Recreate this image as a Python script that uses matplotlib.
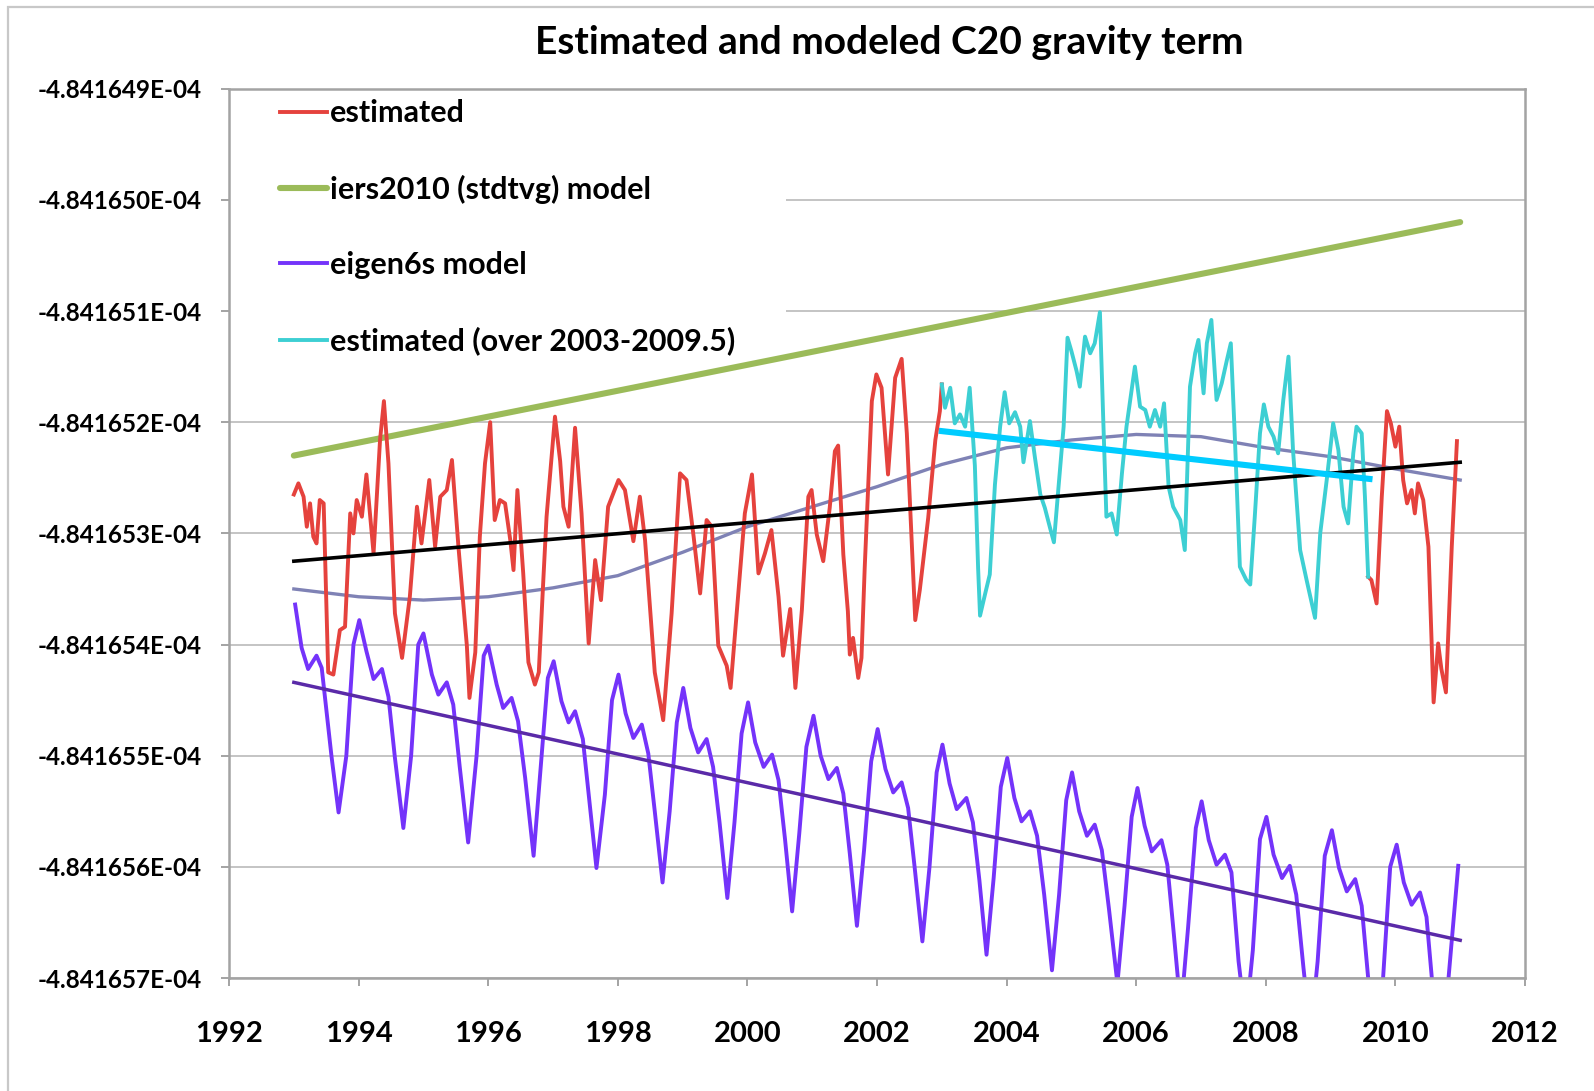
import matplotlib
matplotlib.use('Agg')
import numpy as np
import matplotlib.pyplot as plt
import matplotlib.patches as patches
from matplotlib.ticker import FuncFormatter

plt.rcParams['font.family'] = ['Lato', 'DejaVu Sans']

# C20 value = C20_BASE + offset * UNIT  (offsets)
C20_BASE = -4.84165e-4
UNIT = 1e-10

# weekly estimates (red, and cyan over 2003-2009.5)
est_year = [
    1993.00, 1993.07, 1993.15, 1993.20, 1993.25, 1993.30, 1993.35, 1993.40, 1993.46, 1993.53,
    1993.61, 1993.71, 1993.79, 1993.87, 1993.92, 1993.97, 1994.05, 1994.12, 1994.23, 1994.33,
    1994.39, 1994.46, 1994.56, 1994.67, 1994.79, 1994.90, 1994.97, 1995.09, 1995.18, 1995.26,
    1995.36, 1995.44, 1995.54, 1995.67, 1995.71, 1995.80, 1995.87, 1995.95, 1996.03, 1996.10,
    1996.18, 1996.26, 1996.34, 1996.39, 1996.45, 1996.54, 1996.62, 1996.72, 1996.78, 1996.85,
    1996.90, 1997.03, 1997.11, 1997.16, 1997.24, 1997.34, 1997.44, 1997.55, 1997.65, 1997.74,
    1997.85, 1998.01, 1998.11, 1998.24, 1998.34, 1998.42, 1998.57, 1998.70, 1998.83, 1998.96,
    1999.06, 1999.17, 1999.27, 1999.37, 1999.45, 1999.55, 1999.68, 1999.74, 1999.83, 1999.96,
    2000.07, 2000.17, 2000.27, 2000.37, 2000.48, 2000.55, 2000.66, 2000.74, 2000.84, 2000.94,
    2000.99, 2001.07, 2001.17, 2001.27, 2001.35, 2001.40, 2001.48, 2001.55, 2001.58, 2001.63,
    2001.71, 2001.76, 2001.81, 2001.92, 2001.99, 2002.07, 2002.17, 2002.28, 2002.38, 2002.46,
    2002.53, 2002.59, 2002.66, 2002.79, 2002.90, 2002.97,
    2003.00, 2003.05, 2003.13, 2003.20, 2003.28, 2003.36, 2003.43, 2003.51, 2003.56, 2003.59,
    2003.67, 2003.74, 2003.82, 2003.90, 2003.97, 2004.04, 2004.13, 2004.21, 2004.26, 2004.36,
    2004.44, 2004.52, 2004.59, 2004.67, 2004.73, 2004.80, 2004.88, 2004.94, 2005.00, 2005.08,
    2005.13, 2005.21, 2005.29, 2005.36, 2005.44, 2005.49, 2005.54, 2005.62, 2005.70, 2005.78,
    2005.85, 2005.98, 2006.06, 2006.14, 2006.21, 2006.29, 2006.37, 2006.43, 2006.50, 2006.57,
    2006.68, 2006.75, 2006.83, 2006.91, 2006.96, 2007.04, 2007.09, 2007.16, 2007.24, 2007.32,
    2007.40, 2007.46, 2007.52, 2007.60, 2007.70, 2007.76, 2007.83, 2007.91, 2007.97, 2008.04,
    2008.12, 2008.19, 2008.27, 2008.35, 2008.42, 2008.53, 2008.63, 2008.76, 2008.84, 2008.94,
    2009.04, 2009.12, 2009.20, 2009.27, 2009.35, 2009.40, 2009.48, 2009.53, 2009.58,
    2009.63, 2009.71, 2009.79, 2009.87, 2009.93, 2010.00, 2010.06, 2010.12, 2010.18, 2010.25,
    2010.30, 2010.35, 2010.43, 2010.51, 2010.59, 2010.66, 2010.71, 2010.78, 2010.87, 2010.95,
]
est_off = [
    -2.65, -2.55, -2.67, -2.94, -2.73, -3.03, -3.09, -2.70, -2.73, -4.25,
    -4.27, -3.87, -3.84, -2.82, -3.00, -2.70, -2.85, -2.47, -3.18, -2.16,
    -1.81, -2.37, -3.72, -4.12, -3.57, -2.76, -3.09, -2.52, -3.12, -2.67,
    -2.61, -2.34, -3.12, -4.01, -4.48, -4.07, -3.03, -2.37, -2.00, -2.88,
    -2.70, -2.73, -3.06, -3.33, -2.61, -3.36, -4.16, -4.36, -4.25, -3.42,
    -2.85, -1.95, -2.35, -2.76, -2.94, -2.05, -2.82, -3.99, -3.24, -3.60,
    -2.76, -2.52, -2.61, -3.07, -2.67, -3.06, -4.25, -4.68, -3.72, -2.46,
    -2.52, -3.03, -3.54, -2.88, -2.94, -4.01, -4.19, -4.39, -3.75, -2.82,
    -2.47, -3.36, -3.18, -2.97, -3.57, -4.10, -3.68, -4.39, -3.69, -2.67,
    -2.61, -3.01, -3.25, -2.77, -2.26, -2.21, -3.19, -3.70, -4.09, -3.94,
    -4.30, -4.12, -3.31, -1.81, -1.57, -1.69, -2.47, -1.60, -1.43, -2.10,
    -3.01, -3.78, -3.51, -2.86, -2.16, -1.90,
    -1.66, -1.87, -1.69, -2.01, -1.93, -2.04, -1.69, -2.39, -3.31, -3.74,
    -3.54, -3.37, -2.56, -2.04, -1.73, -2.01, -1.91, -2.04, -2.36, -1.99,
    -2.33, -2.65, -2.77, -2.95, -3.08, -2.59, -2.04, -1.24, -1.36, -1.54,
    -1.68, -1.23, -1.38, -1.29, -1.01, -1.95, -2.85, -2.82, -3.01, -2.46,
    -2.04, -1.50, -1.86, -1.89, -2.04, -1.89, -2.04, -1.83, -2.58, -2.76,
    -2.88, -3.15, -1.68, -1.38, -1.26, -1.74, -1.29, -1.08, -1.80, -1.65,
    -1.44, -1.29, -2.10, -3.30, -3.42, -3.46, -2.85, -2.10, -1.84, -2.04,
    -2.13, -2.28, -1.80, -1.41, -2.25, -3.15, -3.42, -3.76, -3.00, -2.52,
    -2.01, -2.25, -2.76, -2.91, -2.28, -2.04, -2.10, -2.67, -3.39,
    -3.42, -3.63, -2.67, -1.90, -2.01, -2.22, -2.04, -2.52, -2.73, -2.61,
    -2.82, -2.55, -2.70, -3.12, -4.52, -3.99, -4.22, -4.43, -3.12, -2.17,
]

# eigen6s model
eig_year = [
    1993.02, 1993.12, 1993.22, 1993.35, 1993.43, 1993.58, 1993.69, 1993.81, 1993.92,
    1994.01, 1994.12, 1994.23, 1994.36, 1994.46, 1994.56, 1994.69, 1994.81, 1994.92,
    1995.00, 1995.13, 1995.23, 1995.36, 1995.46, 1995.56, 1995.69, 1995.82, 1995.93,
    1996.00, 1996.13, 1996.23, 1996.36, 1996.46, 1996.57, 1996.70, 1996.81, 1996.92,
    1997.01, 1997.13, 1997.24, 1997.34, 1997.46, 1997.56, 1997.67, 1997.80, 1997.91,
    1998.01, 1998.12, 1998.24, 1998.37, 1998.47, 1998.57, 1998.69, 1998.80, 1998.91,
    1999.01, 1999.12, 1999.24, 1999.37, 1999.47, 1999.57, 1999.69, 1999.80, 1999.91,
    2000.01, 2000.12, 2000.25, 2000.38, 2000.48, 2000.58, 2000.69, 2000.80, 2000.91,
    2001.02, 2001.13, 2001.25, 2001.38, 2001.48, 2001.58, 2001.69, 2001.80, 2001.91,
    2002.01, 2002.13, 2002.25, 2002.38, 2002.48, 2002.58, 2002.70, 2002.81, 2002.92,
    2003.01, 2003.12, 2003.23, 2003.38, 2003.48, 2003.58, 2003.69, 2003.80, 2003.91,
    2004.01, 2004.12, 2004.23, 2004.36, 2004.47, 2004.58, 2004.70, 2004.81, 2004.92,
    2005.01, 2005.12, 2005.24, 2005.36, 2005.47, 2005.58, 2005.71, 2005.82, 2005.93,
    2006.02, 2006.13, 2006.24, 2006.39, 2006.48, 2006.58, 2006.69, 2006.80, 2006.92,
    2007.01, 2007.12, 2007.24, 2007.37, 2007.47, 2007.58, 2007.69, 2007.80, 2007.91,
    2008.01, 2008.12, 2008.25, 2008.37, 2008.47, 2008.58, 2008.69, 2008.80, 2008.91,
    2009.02, 2009.13, 2009.25, 2009.38, 2009.48, 2009.58, 2009.69, 2009.81, 2009.92,
    2010.02, 2010.13, 2010.25, 2010.38, 2010.48, 2010.57, 2010.69, 2010.82, 2010.97,
]
eig_off = [
    -3.64, -4.03, -4.22, -4.10, -4.21, -5.00, -5.51, -5.00, -4.00,
    -3.78, -4.06, -4.31, -4.22, -4.47, -5.02, -5.65, -5.00, -4.00,
    -3.90, -4.27, -4.45, -4.34, -4.54, -5.10, -5.78, -5.00, -4.10,
    -4.01, -4.36, -4.57, -4.48, -4.69, -5.20, -5.90, -5.10, -4.30,
    -4.15, -4.51, -4.70, -4.60, -4.85, -5.40, -6.01, -5.35, -4.50,
    -4.27, -4.62, -4.84, -4.72, -4.98, -5.50, -6.14, -5.50, -4.70,
    -4.39, -4.75, -4.97, -4.85, -5.10, -5.60, -6.28, -5.60, -4.80,
    -4.52, -4.88, -5.10, -4.99, -5.22, -5.75, -6.40, -5.70, -4.92,
    -4.64, -5.00, -5.21, -5.11, -5.34, -5.88, -6.53, -5.85, -5.05,
    -4.76, -5.12, -5.33, -5.24, -5.47, -6.00, -6.67, -6.00, -5.15,
    -4.90, -5.25, -5.48, -5.38, -5.60, -6.12, -6.79, -6.10, -5.28,
    -5.02, -5.38, -5.59, -5.50, -5.72, -6.25, -6.93, -6.25, -5.40,
    -5.15, -5.50, -5.72, -5.62, -5.85, -6.38, -7.05, -6.35, -5.55,
    -5.29, -5.63, -5.86, -5.76, -5.98, -6.60, -7.30, -6.55, -5.65,
    -5.41, -5.76, -5.98, -5.89, -6.05, -6.85, -7.40, -6.75, -5.75,
    -5.55, -5.89, -6.10, -5.99, -6.25, -6.90, -7.50, -6.85, -5.90,
    -5.67, -6.01, -6.22, -6.11, -6.35, -7.00, -7.60, -7.00, -6.00,
    -5.80, -6.14, -6.34, -6.23, -6.45, -7.05, -7.70, -7.00, -5.99,
]

# smooth fit curve (slate blue)
fit_year = [1993.0, 1994.0, 1995.0, 1996.0, 1997.0, 1998.0, 1999.0, 2000.0, 2001.0, 2002.0,
            2003.0, 2004.0, 2005.0, 2006.0, 2007.0, 2008.0, 2009.0, 2010.0, 2011.0]
fit_off = [-3.50, -3.57, -3.60, -3.57, -3.49, -3.38, -3.17, -2.94, -2.76, -2.58,
           -2.38, -2.23, -2.16, -2.11, -2.13, -2.23, -2.31, -2.42, -2.52]

# straight lines
iers_year = [1993.0, 2011.0]
iers_off = [-2.30, -0.20]
est_trend_year = [1993.0, 2011.0]
est_trend_off = [-3.25, -2.36]
eig_trend_year = [1993.0, 2011.0]
eig_trend_off = [-4.34, -6.66]
sub_trend_year = [2003.0, 2009.6]
sub_trend_off = [-2.08, -2.51]

SUB_START, SUB_END = 2003.0, 2009.58


def val(off):
    return C20_BASE + np.asarray(off) * UNIT


est_year = np.array(est_year)
est_val = val(est_off)
red_val = np.where((est_year <= SUB_START) | (est_year >= SUB_END), est_val, np.nan)
sub = (est_year >= SUB_START) & (est_year <= SUB_END)

fig = plt.figure(figsize=(15.94, 10.91), dpi=100)
ax = fig.add_axes([0.1437, 0.1035, 0.8130, 0.8152])

l_iers, = ax.plot(iers_year, val(iers_off), color='#9BBB59', lw=4.4, zorder=2,
                  solid_capstyle='round', label='iers2010 (stdtvg) model')
ax.plot(fit_year, val(fit_off), color='#7F82B5', lw=2.4, zorder=2.1)
l_est, = ax.plot(est_year, red_val, color='#E5423D', lw=2.8, zorder=2.2, label='estimated')
l_sub, = ax.plot(est_year[sub], est_val[sub], color='#3DCFD3', lw=2.8, zorder=2.3,
                 label='estimated (over 2003-2009.5)')
l_eig, = ax.plot(eig_year, val(eig_off), color='#7433FA', lw=2.8, zorder=2.4, label='eigen6s model')
ax.plot(eig_trend_year, val(eig_trend_off), color='#5A2AA8', lw=2.5, zorder=2.5)
ax.plot(est_trend_year, val(est_trend_off), color='black', lw=2.6, zorder=2.6)
ax.plot(sub_trend_year, val(sub_trend_off), color='#00CCFF', lw=4.4, zorder=2.7)

ax.set_xlim(1992, 2012)
ax.set_ylim(C20_BASE - 7 * UNIT, C20_BASE + 1 * UNIT)
ax.set_xticks(range(1992, 2013, 2))
ax.set_yticks([C20_BASE + k * UNIT for k in range(-7, 2)])
ax.yaxis.set_major_formatter(FuncFormatter(lambda v, p: '%.6E' % v))

ax.set_axisbelow(True)
ax.yaxis.grid(True, color='#C4C4C4', lw=1.4)
for s in ax.spines.values():
    s.set_color('#A3A3A3')
    s.set_linewidth(1.8)
ax.tick_params(axis='both', direction='out', length=6, width=1.4, color='#A3A3A3')
ax.tick_params(axis='y', labelsize=17.5, pad=14)
ax.tick_params(axis='x', labelsize=21, pad=25)
for lab in ax.get_xticklabels() + ax.get_yticklabels():
    lab.set_fontweight('bold')

# white legend background hiding the gridlines
ax.add_patch(patches.Rectangle((0, 0.725), 0.43, 0.275, transform=ax.transAxes,
                               facecolor='white', edgecolor='none', zorder=1))

leg = ax.legend([l_est, l_iers, l_eig, l_sub],
                ['estimated', 'iers2010 (stdtvg) model', 'eigen6s model',
                 'estimated (over 2003-2009.5)'],
                loc='upper left', bbox_to_anchor=(0.039, 0.988), frameon=False,
                handlelength=1.55, handletextpad=0.1, labelspacing=1.55,
                borderaxespad=0, borderpad=0,
                prop={'size': 22, 'weight': 'bold'})

fig.text(0.558, 1 - 43 / 1091, 'Estimated and modeled C20 gravity term',
         ha='center', va='center', fontsize=28, fontweight='bold')

# outer chart frame
fig.patches.append(patches.Rectangle((8 / 1594, -0.1), 1.2, 1.1 - 7 / 1091,
                                     transform=fig.transFigure, fill=False,
                                     edgecolor='#C8C8C8', lw=1.6))

fig.savefig('out.png', dpi=100)
